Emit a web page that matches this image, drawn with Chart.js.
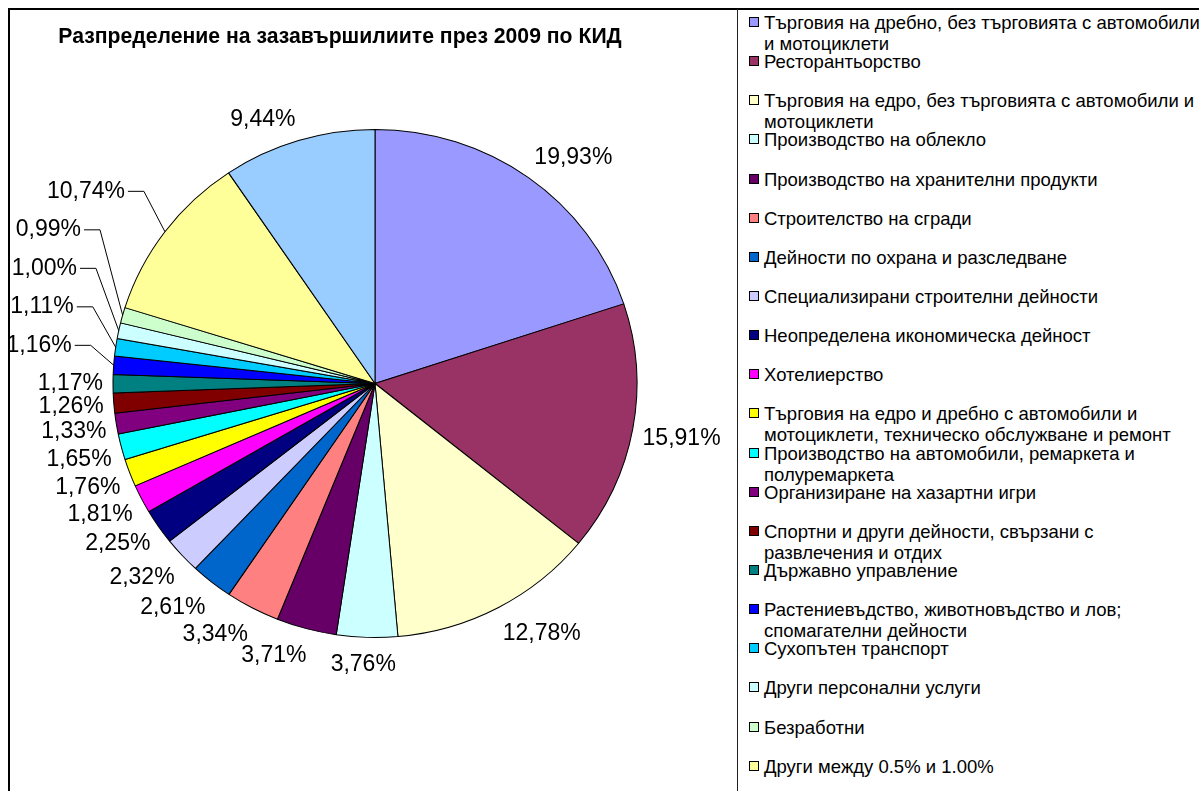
<!DOCTYPE html>
<html>
<head>
<meta charset="utf-8">
<script src="https://cdn.jsdelivr.net/npm/chart.js@4.4.1/dist/chart.umd.min.js"></script>
<style>
  body { margin: 0; background: #fff; overflow: hidden; font-family: "Liberation Sans", Arial, sans-serif; }
  #frame { position: absolute; left: 8px; top: 8px; width: 1300px; height: 900px; border-top: 2px solid #000; border-left: 2px solid #000; }
  #sep { position: absolute; left: 737px; top: 9px; width: 1px; height: 800px; background: #222; }
  #grafico { position: absolute; left: 10px; top: 10px; }
  #titulo { position: absolute; left: 10px; top: 24px; width: 660px; text-align: center; font-weight: bold; font-size: 21.2px; color: #000; }
  #legenda { position: absolute; left: 749px; top: 12px; width: 450px; }
  .item { position: relative; height: 39.15px; }
  .item .cor { position: absolute; left: 0; top: 5px; width: 8px; height: 8px; border: 1px solid #000; }
  .item .txt { position: absolute; left: 15px; top: 0; width: 436px; font-size: 18.5px; line-height: 21px; color: #000; white-space: normal; }
</style>
</head>
<body>
<div id="frame"></div>
<div id="sep"></div>
<canvas id="grafico" width="727" height="781"></canvas>
<div id="titulo">Разпределение на зазавършилиите през 2009 по КИД</div>
<div id="legenda"></div>
<script>
// categories, in the order the slices go round the pie
const categorias = [
  'Търговия на дребно, без търговията с автомобили и мотоциклети',
  'Ресторантьорство',
  'Търговия на едро, без търговията с автомобили и мотоциклети',
  'Производство на облекло',
  'Производство на хранителни продукти',
  'Строителство на сгради',
  'Дейности по охрана и разследване',
  'Специализирани строителни дейности',
  'Неопределена икономическа дейност',
  'Хотелиерство',
  'Търговия на едро и дребно с автомобили и мотоциклети, техническо обслужване и ремонт',
  'Производство на автомобили, ремаркета и полуремаркета',
  'Организиране на хазартни игри',
  'Спортни и други дейности, свързани с развлечения и отдих',
  'Държавно управление',
  'Растениевъдство, животновъдство и лов; спомагателни дейности',
  'Сухопътен транспорт',
  'Други персонални услуги',
  'Безработни',
  'Други между 0.5% и 1.00%',
  'Други под 0.5%'
]

// share of graduates, %
const valores = [19.93, 15.91, 12.78, 3.76, 3.71, 3.34, 2.61, 2.32, 2.25, 1.81,
                 1.76, 1.65, 1.33, 1.26, 1.17, 1.16, 1.11, 1.00, 0.99, 10.74, 9.44]

const cores = ['#9999FF', '#993366', '#FFFFCC', '#CCFFFF', '#660066', '#FF8080', '#0066CC',
               '#CCCCFF', '#000080', '#FF00FF', '#FFFF00', '#00FFFF', '#800080', '#800000',
               '#008080', '#0000FF', '#00CCFF', '#CCFFFF', '#CCFFCC', '#FFFF99', '#99CCFF']

const fmt = v => v.toFixed(2).replace('.', ',') + '%'

// the pie is drawn slightly wider than tall
const SX = 262 / 258, SY = 254 / 258

const elipse = {
  id: 'elipse',
  beforeDatasetsDraw(chart) {
    const arc = chart.getDatasetMeta(0).data[0]
    const c = chart.ctx
    c.save()
    c.translate(arc.x, arc.y)
    c.scale(SX, SY)
    c.translate(-arc.x, -arc.y)
  },
  afterDatasetsDraw(chart) {
    chart.ctx.restore()
  }
}

// percentage labels outside the pie, with leader lines where they had to be moved up
const rotulos = {
  id: 'rotulos',
  afterDatasetsDraw(chart) {
    const c = chart.ctx
    const arcs = chart.getDatasetMeta(0).data
    const fs = 23
    c.save()
    c.font = fs + 'px "Liberation Sans", Arial, sans-serif'
    c.fillStyle = '#000'
    c.strokeStyle = '#000'
    c.lineWidth = 1
    c.textAlign = 'center'
    c.textBaseline = 'middle'
    const clamp = (v, lo = -1, hi = 1) => Math.max(lo, Math.min(hi, v))
    let anterior = null
    arcs.forEach((arc, i) => {
      const a = (arc.startAngle + arc.endAngle) / 2
      const ux = Math.cos(a), uy = Math.sin(a)
      const rx = arc.outerRadius * SX, ry = arc.outerRadius * SY
      const txt = fmt(valores[i])
      const w = c.measureText(txt).width
      const px = arc.x + ux * (rx + 10), py = arc.y + uy * (ry + 10)
      let x = px + w / 2 * clamp(ux * 3.5)
      // labels under the pie sit a little lower
      let y = py + fs / 2 * clamp(uy * 3.5) + 6 * clamp((uy - 0.58) * 8, 0, 1)
      const theta = (a + Math.PI / 2) * 180 / Math.PI
      if (theta >= 268) {
        if (anterior !== null && y > anterior - 38.5) {
          y = anterior - 38.5
          x -= 32
          const xr = x + w / 2 + 3
          c.beginPath()
          c.moveTo(xr, y)
          c.lineTo(xr + 16, y)
          c.lineTo(arc.x + ux * rx, arc.y + uy * ry)
          c.stroke()
        }
        anterior = y
      }
      c.fillText(txt, x, y)
    })
    c.restore()
  }
}

const ctx = document.getElementById('grafico')

let grafico = new Chart(ctx, {
  type: 'pie',
  data: {
    labels: categorias,
    datasets: [{
      data: valores,
      backgroundColor: cores,
      borderColor: '#000',
      borderWidth: 1
    }]
  },
  options: {
    responsive: false,
    animation: false,
    radius: 258,
    layout: { padding: { left: 107, top: 115, right: 104, bottom: 149 } },
    plugins: {
      legend: { display: false },
      tooltip: { enabled: false }
    }
  },
  plugins: [elipse, rotulos]
})

// legend on the right
const leg = document.getElementById('legenda')
categorias.forEach((nome, i) => {
  const d = document.createElement('div')
  d.className = 'item'
  d.innerHTML = '<span class="cor" style="background:' + cores[i] + '"></span><span class="txt"></span>'
  d.querySelector('.txt').textContent = nome
  leg.appendChild(d)
})
</script>
</body>
</html>
